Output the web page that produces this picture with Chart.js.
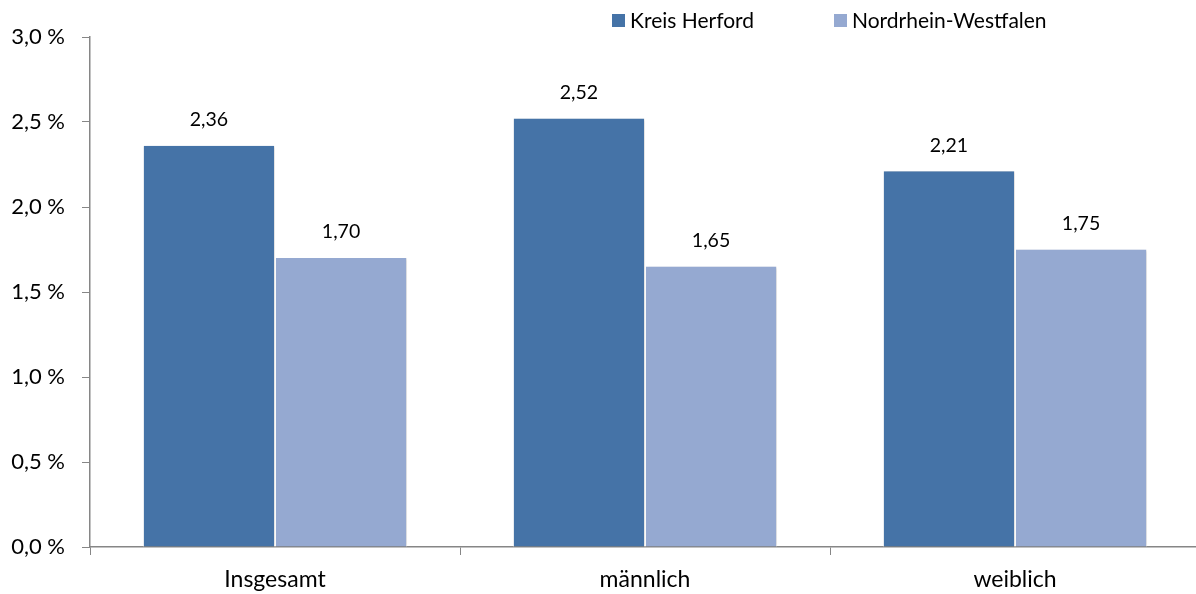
<!DOCTYPE html>
<html>
<head>
<meta charset="utf-8">
<script src="https://cdn.jsdelivr.net/npm/chart.js@4/dist/chart.umd.min.js"></script>
<style>
  html, body { margin: 0; padding: 0; background: #fff; overflow: hidden; }
  #wrap { width: 1200px; height: 594px; }
</style>
</head>
<body>
<div id="wrap"><canvas id="chart"></canvas></div>
<script>
// Daten
const categories = ['Insgesamt', 'männlich', 'weiblich'];
const seriesNames = ['Kreis Herford', 'Nordrhein-Westfalen'];
const herford = [2.36, 2.52, 2.21];
const nrw = [1.70, 1.65, 1.75];
const seriesColors = ['#4573A7', '#95A9D1'];

const FONT = 'Lato, "Open Sans", sans-serif';

function deNum(v, digits) {
    return v.toFixed(digits).replace('.', ',');
}

// Schatten für Balken
const barShadow = {
    id: 'barShadow',
    beforeDatasetsDraw(chart) {
        const ctx = chart.ctx;
        ctx.save();
        ctx.shadowColor = 'rgba(0,0,0,0.22)';
        ctx.shadowBlur = 3;
        ctx.shadowOffsetX = 1;
        ctx.shadowOffsetY = 0;
    },
    afterDatasetsDraw(chart) {
        chart.ctx.restore();
    }
};

// Werte über den Balken
const valueLabels = {
    id: 'valueLabels',
    afterDatasetsDraw(chart) {
        const ctx = chart.ctx;
        ctx.save();
        ctx.font = '19.5px ' + FONT;
        ctx.fillStyle = '#000';
        ctx.textAlign = 'center';
        ctx.textBaseline = 'middle';
        chart.data.datasets.forEach((ds, i) => {
            chart.getDatasetMeta(i).data.forEach((bar, j) => {
                ctx.fillText(deNum(ds.data[j], 2), bar.x, bar.y - 26);
            });
        });
        ctx.restore();
    }
};

// Legende oben rechts
const topLegend = {
    id: 'topLegend',
    afterDraw(chart) {
        const ctx = chart.ctx;
        const xs = [612, 834];
        ctx.save();
        ctx.font = '21px ' + FONT;
        ctx.textBaseline = 'middle';
        chart.data.datasets.forEach((ds, i) => {
            ctx.fillStyle = ds.backgroundColor;
            ctx.fillRect(xs[i], 14, 13, 13);
            ctx.fillStyle = '#000';
            ctx.fillText(ds.label, xs[i] + 18, 21);
        });
        ctx.restore();
    }
};

new Chart(document.getElementById('chart'), {
    type: 'bar',
    data: {
        labels: categories,
        datasets: [
            { label: seriesNames[0], data: herford, backgroundColor: seriesColors[0] },
            { label: seriesNames[1], data: nrw, backgroundColor: seriesColors[1] }
        ]
    },
    options: {
        responsive: true,
        maintainAspectRatio: false,
        animation: false,
        layout: { padding: { top: 37, right: 0, left: 10, bottom: 0 } },
        datasets: {
            bar: {
                categoryPercentage: 0.714,
                barPercentage: 1.0,
                borderColor: '#ffffff',
                borderWidth: { left: 1, right: 1, top: 0, bottom: 0 },
                borderSkipped: false
            }
        },
        plugins: {
            legend: { display: false },
            tooltip: { enabled: false }
        },
        scales: {
            x: {
                afterFit: scale => { scale.height = 47; },
                grid: {
                    offset: true,
                    drawOnChartArea: false,
                    drawTicks: true,
                    tickLength: 8,
                    color: '#868686'
                },
                border: { color: '#868686', width: 1.5 },
                ticks: {
                    color: '#000',
                    padding: 11,
                    font: { family: FONT, size: 23 }
                }
            },
            y: {
                min: 0,
                max: 3,
                afterFit: scale => { scale.width = 80; },
                ticks: {
                    stepSize: 0.5,
                    color: '#000',
                    padding: 17,
                    font: { family: FONT, size: 22 },
                    callback: v => deNum(v, 1) + ' %'
                },
                grid: {
                    drawOnChartArea: false,
                    drawTicks: true,
                    tickLength: 8,
                    color: '#868686'
                },
                border: { color: '#868686', width: 1.5 }
            }
        }
    },
    plugins: [barShadow, valueLabels, topLegend]
});
</script>
</body>
</html>
